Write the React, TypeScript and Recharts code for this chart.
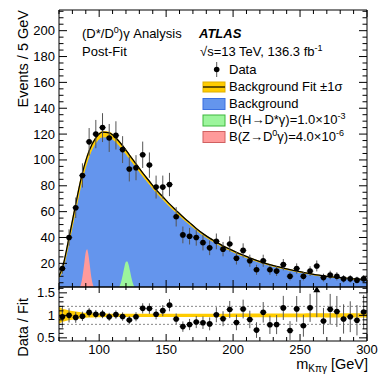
import React from 'react';
import { ComposedChart, Area, Line, Scatter, ErrorBar, XAxis, YAxis, ReferenceLine } from 'recharts';

const FONT = '"Liberation Sans", Arial, Helvetica, sans-serif';

// m(K pi gamma) bin centres, 5 GeV bins from 70 to 300 GeV
const binCenters = [
  72.5, 77.5, 82.5, 87.5, 92.5, 97.5, 102.5, 107.5, 112.5, 117.5,
  122.5, 127.5, 132.5, 137.5, 142.5, 147.5, 152.5, 157.5, 162.5, 167.5,
  172.5, 177.5, 182.5, 187.5, 192.5, 197.5, 202.5, 207.5, 212.5, 217.5,
  222.5, 227.5, 232.5, 237.5, 242.5, 247.5, 252.5, 257.5, 262.5, 267.5,
  272.5, 277.5, 282.5, 287.5, 292.5, 297.5,
];
const dataCounts = [
  16, 40, 63, 88, 114, 120, 125, 117, 119, 108,
  93, 94, 104, 96, 79, 79, 81, 56, 42, 41,
  40, 36, 32, 37, 31, 35, 24, 30, 22, 15,
  22, 15, 14, 19, 10, 16, 10, 14, 18, 9,
  11, 10, 8, 8, 7, 8,
];

// background fit, sampled at the edges and the bin centres
const fitMass = [70, ...binCenters, 300];
const fitValues = [
  10.5,
  16.5, 40, 66, 90, 107, 117, 121.5, 121, 117, 111,
  104, 97, 90, 83.5, 77, 71.5, 66, 61, 56, 51.5,
  47, 43, 39.5, 36.5, 33.5, 31, 28.5, 26.3, 24.2, 22.3,
  20.6, 19, 17.6, 16.3, 15.1, 14, 13, 12, 11, 10.3,
  9.7, 9.2, 8.7, 8.25, 7.85, 7.45,
  7.3,
];
// relative +-1 sigma of the fit
const fitRelErr = [
  0.19,
  0.15, 0.11, 0.085, 0.065, 0.05, 0.043, 0.04, 0.038, 0.036, 0.035,
  0.035, 0.035, 0.035, 0.035, 0.035, 0.035, 0.035, 0.035, 0.035, 0.035,
  0.035, 0.036, 0.037, 0.038, 0.038, 0.038, 0.039, 0.039, 0.04, 0.04,
  0.04, 0.041, 0.041, 0.042, 0.042, 0.043, 0.043, 0.044, 0.044, 0.045,
  0.045, 0.045, 0.046, 0.046, 0.046, 0.047,
  0.047,
];

// Z -> D0 gamma signal (red)
const zMass = [83, 84, 85, 86, 87, 88, 89, 90, 91, 92, 93, 94, 95, 96, 97, 98, 99];
const zYield = [0, 0.3, 0.8, 2.6, 6.6, 13.3, 21.3, 28.8, 30.9, 26.4, 18.7, 10.5, 4.8, 1.7, 0.5, 0.2, 0];
// H -> D* gamma signal (green)
const hMass = [113, 114, 115, 116, 117, 118, 119, 120, 121, 122, 123, 124, 125, 126, 127, 128, 129];
const hYield = [0, 0.9, 2.1, 4.5, 8.3, 13.2, 18, 21.2, 21.5, 18.9, 14.2, 9.3, 5.2, 2.5, 1, 0.3, 0];

// ratio points above the panel range
const overflowMass = [262.5];
const overflowLow = [0.96];

const countLabels = [20, 40, 60, 80, 100, 120, 140, 160, 180, 200];
const ratioLabels = [0.5, 1, 1.5];
const massLabels = [100, 150, 200, 250, 300];

const countDomain = [1.7, 216];
const ratioDomain = [0.43, 1.63];
const massDomain = [70, 300];

const countTicks = Array.from({ length: 43 }, (_, i) => 5 + 5 * i);
const ratioTicks = Array.from({ length: 12 }, (_, i) => Math.round((0.5 + 0.1 * i) * 10) / 10);
const massTicks = Array.from({ length: 24 }, (_, i) => 70 + 10 * i);

const fitRows = fitMass.map((x, i) => {
  const f = fitValues[i];
  const e = fitRelErr[i];
  return { x, fit: f, bkg: f * (1 - 0.75 * e), band: [f * (1 - 0.75 * e), f * (1 + 0.1 * e)], rband: [1 - e, 1 + e] };
});
const pointRows = binCenters.map((x, i) => ({ x, n: dataCounts[i], en: Math.sqrt(dataCounts[i]), ex: 2.5 }));
const ratioRows = binCenters
  .map((x, i) => {
    const f = fitValues[i + 1];
    return { x, r: dataCounts[i] / f, er: Math.sqrt(dataCounts[i]) / f, ex: 2.5 };
  })
  .filter(p => p.r <= ratioDomain[1]);
const overflowRows = overflowMass.map((x, i) => ({ x, r: ratioDomain[1] - 0.06, er: [ratioDomain[1] - 0.06 - overflowLow[i], 0.06] }));
const zRows = zMass.map((x, i) => ({ x, y: zYield[i] }));
const hRows = hMass.map((x, i) => ({ x, y: hYield[i] }));

type Side = 'left' | 'right' | 'top' | 'bottom';

const axisTick = (side: Side, majors: number[], big: number, small: number, label?: (v: number) => string) =>
  (props: any) => {
    const { x, y, payload } = props;
    const v = payload.value;
    const major = majors.some(m => Math.abs(m - v) < 1e-6);
    const len = major ? big : small;
    const dx = side === 'left' ? len : side === 'right' ? -len : 0;
    const dy = side === 'top' ? len : side === 'bottom' ? -len : 0;
    return (
      <g>
        <line x1={x} y1={y} x2={x + dx} y2={y + dy} stroke="#000" strokeWidth={1} />
        {label && major && side === 'left' && (
          <text x={x - 4} y={y} dy="0.35em" textAnchor="end" fontSize={13} fontFamily={FONT} fill="#000">{label(v)}</text>
        )}
        {label && major && side === 'bottom' && (
          <text x={x} y={y + 12.5} textAnchor="middle" fontSize={13} fontFamily={FONT} fill="#000">{label(v)}</text>
        )}
      </g>
    );
  };

const dot = (p: any) => <circle cx={p.cx} cy={p.cy} r={2.8} fill="#000" />;
const tri = (p: any) => (
  <path d={`M${p.cx},${p.cy - 3.5} L${p.cx + 3.5},${p.cy + 2.5} L${p.cx - 3.5},${p.cy + 2.5} Z`} fill="#000" />
);

const fmt = (v: number) => String(v);

const MainPanel = () => (
  <ComposedChart width={391} height={290} margin={{ top: 9, right: 23, bottom: 2, left: 0 }}>
    <Area data={fitRows} dataKey="bkg" type="monotone" fill="#6495ed" fillOpacity={1} stroke="none" isAnimationActive={false} />
    <Area data={fitRows} dataKey="band" type="monotone" fill="#ffcc00" fillOpacity={1} stroke="#ffcc00" strokeWidth={1} isAnimationActive={false} />
    <Area data={zRows} dataKey="y" type="monotone" fill="#ff9a9a" fillOpacity={1} stroke="none" isAnimationActive={false} />
    <Area data={hRows} dataKey="y" type="monotone" fill="#9cf59c" fillOpacity={1} stroke="none" isAnimationActive={false} />
    <Line data={fitRows} dataKey="fit" type="monotone" stroke="#000" strokeWidth={1.3} dot={false} isAnimationActive={false} />
    <Scatter data={pointRows} dataKey="n" shape={dot} isAnimationActive={false}>
      <ErrorBar dataKey="en" direction="y" width={0} stroke="#555" strokeWidth={1} isAnimationActive={false} />
      <ErrorBar dataKey="ex" direction="x" width={0} stroke="#555" strokeWidth={1} isAnimationActive={false} />
    </Scatter>
    <XAxis dataKey="x" type="number" domain={massDomain} allowDataOverflow ticks={massTicks} interval={0}
      height={1} tickSize={0} tickMargin={0} tickLine={false} axisLine={{ stroke: '#000' }}
      tick={axisTick('bottom', massLabels, 7, 4)} />
    <XAxis xAxisId="top" orientation="top" dataKey="x" type="number" domain={massDomain} allowDataOverflow ticks={massTicks} interval={0}
      height={1} tickSize={0} tickMargin={0} tickLine={false} axisLine={{ stroke: '#000' }}
      tick={axisTick('top', massLabels, 7, 4)} />
    <YAxis type="number" domain={countDomain} allowDataOverflow ticks={countTicks} interval={0}
      width={59} tickSize={0} tickMargin={0} tickLine={false} axisLine={{ stroke: '#000' }}
      tick={axisTick('left', countLabels, 8, 4.5, fmt)} />
    <YAxis yAxisId="right" orientation="right" type="number" domain={countDomain} allowDataOverflow ticks={countTicks} interval={0}
      width={1} tickSize={0} tickMargin={0} tickLine={false} axisLine={{ stroke: '#000' }}
      tick={axisTick('right', countLabels, 8, 4.5)} />
  </ComposedChart>
);

const RatioPanel = () => (
  <ComposedChart width={391} height={99} margin={{ top: 1, right: 23, bottom: 0, left: 0 }}>
    <Area data={fitRows} dataKey="rband" type="monotone" fill="#ffcc00" fillOpacity={1} stroke="none" isAnimationActive={false} />
    <ReferenceLine y={1.2} stroke="#888" strokeDasharray="2 2" />
    <ReferenceLine y={0.8} stroke="#888" strokeDasharray="2 2" />
    <Scatter data={ratioRows} dataKey="r" shape={dot} isAnimationActive={false}>
      <ErrorBar dataKey="er" direction="y" width={0} stroke="#555" strokeWidth={1} isAnimationActive={false} />
      <ErrorBar dataKey="ex" direction="x" width={0} stroke="#555" strokeWidth={1} isAnimationActive={false} />
    </Scatter>
    <Scatter data={overflowRows} dataKey="r" shape={tri} isAnimationActive={false}>
      <ErrorBar dataKey="er" direction="y" width={0} stroke="#555" strokeWidth={1} isAnimationActive={false} />
    </Scatter>
    <XAxis dataKey="x" type="number" domain={massDomain} allowDataOverflow ticks={massTicks} interval={0}
      height={43} tickSize={0} tickMargin={0} tickLine={false} axisLine={{ stroke: '#000' }}
      tick={axisTick('bottom', massLabels, 7, 4, fmt)} />
    <XAxis xAxisId="top" orientation="top" dataKey="x" type="number" domain={massDomain} allowDataOverflow ticks={massTicks} interval={0}
      height={1} tickSize={0} tickMargin={0} tickLine={false} axisLine={{ stroke: '#000' }}
      tick={axisTick('top', massLabels, 6, 3)} />
    <YAxis type="number" domain={ratioDomain} allowDataOverflow ticks={ratioTicks} interval={0}
      width={59} tickSize={0} tickMargin={0} tickLine={false} axisLine={{ stroke: '#000' }}
      tick={axisTick('left', ratioLabels, 8, 4.5, fmt)} />
    <YAxis yAxisId="right" orientation="right" type="number" domain={ratioDomain} allowDataOverflow ticks={ratioTicks} interval={0}
      width={1} tickSize={0} tickMargin={0} tickLine={false} axisLine={{ stroke: '#000' }}
      tick={axisTick('right', ratioLabels, 8, 4.5)} />
  </ComposedChart>
);

const legendRows = [
  { label: 'Background', fill: '#6495ed', stroke: '#3a6fe0' },
];

const Overlay = () => (
  <svg width={391} height={384} style={{ position: 'absolute', left: 0, top: 0, pointerEvents: 'none' }}
    fontFamily={FONT} fill="#000">
    <text x={82} y={38} fontSize={13}>
      (D*/D<tspan dy={-5} fontSize={9}>0</tspan><tspan dy={5}>)γ Analysis</tspan>
    </text>
    <text x={82} y={56} fontSize={13}>Post-Fit</text>
    <text x={199} y={38} fontSize={13} fontWeight="bold" fontStyle="italic">ATLAS</text>
    <text x={200} y={55.5} fontSize={13}>
      √s=13 TeV, 136.3 fb<tspan dy={-5} fontSize={9}>-1</tspan>
    </text>

    {/* legend */}
    <line x1={216.7} y1={62} x2={216.7} y2={77} stroke="#555" />
    <circle cx={216.7} cy={69.5} r={2.8} fill="#000" />
    <text x={229} y={73.5} fontSize={13}>Data</text>

    <rect x={203} y={82} width={22} height={10} fill="#ffcc00" stroke="#e0b000" />
    <line x1={203} y1={87} x2={225} y2={87} stroke="#000" strokeWidth={1.2} />
    <text x={229} y={90.5} fontSize={13}>Background Fit ±1σ</text>

    {legendRows.map(r => (
      <g key={r.label}>
        <rect x={203} y={98.5} width={22} height={11} fill={r.fill} stroke={r.stroke} />
        <text x={229} y={107.5} fontSize={13}>{r.label}</text>
      </g>
    ))}

    <rect x={203} y={115} width={22} height={11} fill="#9cf59c" stroke="#3cb83c" />
    <text x={229} y={124} fontSize={13}>
      B(H→D*γ)=1.0×10<tspan dy={-5} fontSize={9}>-3</tspan>
    </text>
    <rect x={203} y={131.5} width={22} height={11} fill="#ff9a9a" stroke="#d06060" />
    <text x={229} y={140.5} fontSize={13}>
      B(Z→D<tspan dy={-5} fontSize={9}>0</tspan><tspan dy={5}>γ)=4.0×10</tspan><tspan dy={-5} fontSize={9}>-6</tspan>
    </text>

    {/* axis titles */}
    <text transform="translate(27.5,10) rotate(-90)" textAnchor="end" fontSize={14.5}>Events / 5 GeV</text>
    <text transform="translate(27.5,298) rotate(-90)" textAnchor="end" fontSize={14.5}>Data / Fit</text>
    <text x={368} y={369} textAnchor="end" fontSize={14.5}>
      m<tspan dy={3} fontSize={10}>Kπγ</tspan><tspan dy={-3}> [GeV]</tspan>
    </text>
  </svg>
);

export default function App() {
  return (
    <div style={{ position: 'absolute', left: 0, top: 0, width: 391, height: 384, background: '#fff' }}>
      <div style={{ position: 'absolute', left: 0, top: 0 }}>
        <MainPanel />
      </div>
      <div style={{ position: 'absolute', left: 0, top: 285 }}>
        <RatioPanel />
      </div>
      <Overlay />
    </div>
  );
}
